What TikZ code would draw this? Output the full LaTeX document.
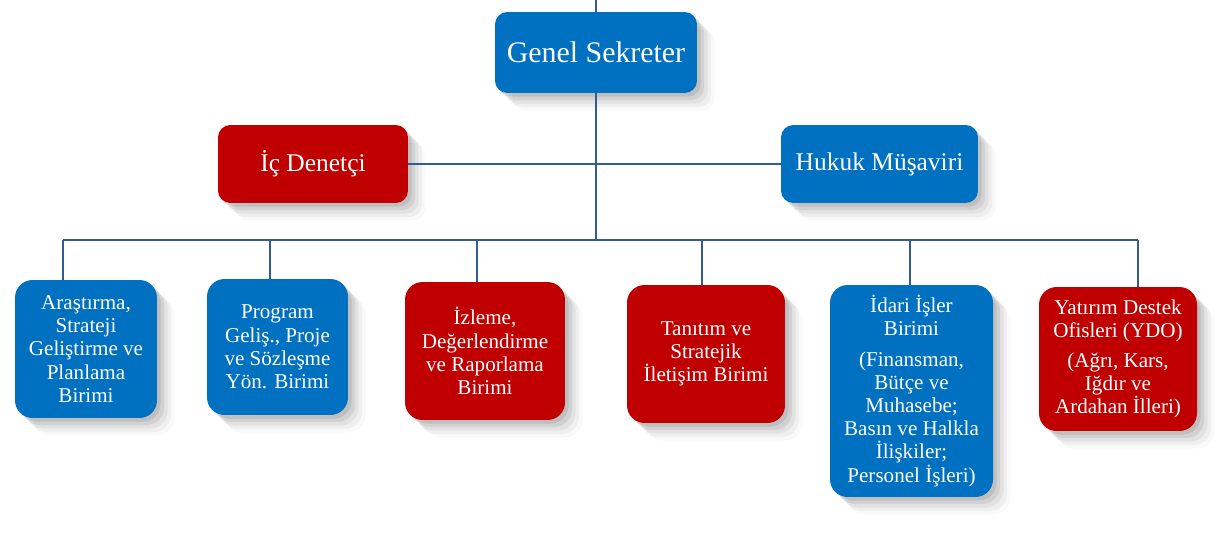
\documentclass[tikz,border=0pt]{standalone}
\usepackage{fontspec}
\setmainfont{Liberation Serif}
\usetikzlibrary{shadows}
\definecolor{orgblue}{RGB}{0,112,192}
\definecolor{orgred}{RGB}{192,0,0}
\definecolor{orgline}{RGB}{50,92,150}

\tikzset{
  unit/.style={rounded corners=7pt, text=white, align=center, inner sep=2pt,
    general shadow={shadow xshift=2pt, shadow yshift=-2pt, fill=black, opacity=.09},
    general shadow={shadow xshift=4pt, shadow yshift=-4pt, fill=black, opacity=.07},
    general shadow={shadow xshift=6pt, shadow yshift=-6pt, fill=black, opacity=.05},
    general shadow={shadow xshift=8pt, shadow yshift=-8pt, fill=black, opacity=.04},
    general shadow={shadow xshift=10pt, shadow yshift=-10pt, fill=black, opacity=.025}},
  blueunit/.style={unit, fill=orgblue},
  redunit/.style={unit, fill=orgred},
  small/.style={font=\fontsize{12}{13.2}\selectfont, rounded corners=10pt},
  link/.style={orgline, line width=1pt}
}

\begin{document}
\begin{tikzpicture}[x=0.02cm, y=-0.02cm]
\useasboundingbox[fill=white] (0,0) rectangle (1216,545);

% top level
\node[blueunit, minimum width=4.04cm, minimum height=1.62cm, font=\fontsize{17}{20}\selectfont] (gs) at (596,52.5) {Genel Sekreter};
\node[redunit, minimum width=3.8cm, minimum height=1.56cm, font=\fontsize{14.5}{17}\selectfont] (ic) at (313,164) {İç Denetçi};
\node[blueunit, minimum width=3.94cm, minimum height=1.56cm, font=\fontsize{14.5}{17}\selectfont] (hm) at (879.5,164) {Hukuk Müşaviri};

% units
\node[blueunit, small, minimum width=2.84cm, minimum height=2.76cm] (b1) at (86,349) {Araştırma,\\ Strateji\\ Geliştirme ve\\ Planlama\\ Birimi};
\node[blueunit, small, minimum width=2.82cm, minimum height=2.72cm] (b2) at (277.5,347) {Program\\ Geliş., Proje\\ ve Sözleşme\\ Yön. Birimi};
\node[redunit, small, minimum width=3.2cm, minimum height=2.76cm] (b3) at (485,351) {İzleme,\\ Değerlendirme\\ ve Raporlama\\ Birimi};
\node[redunit, small, minimum width=3.16cm, minimum height=2.76cm] (b4) at (706,354) {Tanıtım ve\\ Stratejik\\ İletişim Birimi};
\node[blueunit, small, minimum width=3.26cm, minimum height=4.24cm] (b5) at (911.5,391) {İdari İşler\\ Birimi\\[4pt] (Finansman,\\ Bütçe ve\\ Muhasebe;\\ Basın ve Halkla\\ İlişkiler;\\ Personel İşleri)};
\node[redunit, small, minimum width=3.16cm, minimum height=2.88cm] (b6) at (1118,359) {Yatırım Destek\\ Ofisleri (YDO)\\[4pt] (Ağrı, Kars,\\ Iğdır ve\\ Ardahan İlleri)};

% connectors
\coordinate (top) at (596,0);
\coordinate (bus) at (596,240);
\coordinate (t1) at (63,240);
\coordinate (t2) at (270,240);
\coordinate (t3) at (477,240);
\coordinate (t4) at (702,240);
\coordinate (t5) at (910,240);
\coordinate (t6) at (1138,240);

\draw[link] (top) -- (gs.north);
\draw[link] (gs.south) -- (bus);
\draw[link] (ic.east) -- (hm.west);
\draw[link] (t1) -- (t6);
\draw[link] (t1) -- (t1 |- b1.north);
\draw[link] (t2) -- (t2 |- b2.north);
\draw[link] (t3) -- (t3 |- b3.north);
\draw[link] (t4) -- (t4 |- b4.north);
\draw[link] (t5) -- (t5 |- b5.north);
\draw[link] (t6) -- (t6 |- b6.north);
\end{tikzpicture}
\end{document}
